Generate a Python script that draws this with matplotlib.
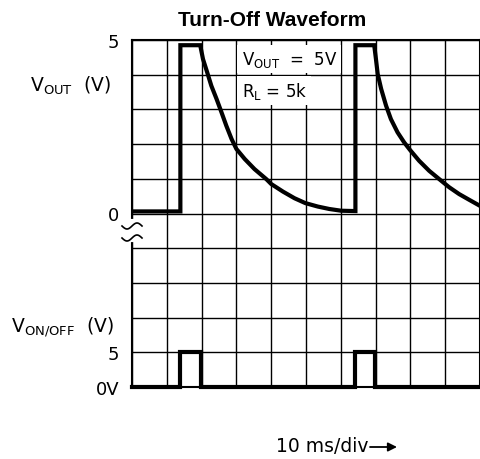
import matplotlib
matplotlib.use('Agg')
import matplotlib.pyplot as plt
from matplotlib.lines import Line2D
from matplotlib.patches import FancyArrowPatch
import numpy as np

# time in ms (10 ms/div, 10 divisions)
vout_t = [0, 13.9, 13.9, 19.6, 20.4, 21.6, 22.8, 24.3, 25.7, 27.1, 28.6, 30.0, 32.4, 35.2,
          38.6, 40.0, 43.4, 46.7, 49.8, 53.4, 56.7, 60.1, 64.2,
          64.2, 69.6, 70.1, 70.6, 71.6, 73.0, 74.4, 76.3, 78.2, 79.9, 82.5, 85.4, 88.3,
          91.1, 94.0, 96.8, 100]
vout_v = [0.06, 0.06, 4.85, 4.85, 4.45, 4.07, 3.68, 3.30, 2.92, 2.53, 2.15, 1.86, 1.57, 1.28,
          0.99, 0.85, 0.63, 0.44, 0.30, 0.20, 0.13, 0.08, 0.07,
          4.85, 4.85, 4.45, 4.02, 3.59, 3.11, 2.72, 2.34, 2.05, 1.83, 1.52, 1.23, 0.99,
          0.76, 0.56, 0.40, 0.22]

von_t = [0, 13.9, 13.9, 19.8, 19.8, 64.2, 64.2, 69.9, 69.9, 100]
von_v = [0, 0, 5, 5, 0, 0, 5, 5, 0, 0]

ytick_labels = ['0V', '5', '', '', '', '0', '', '', '', '', '5']

W, H = 481, 460
fig = plt.figure(figsize=(W / 100, H / 100), dpi=100)
ax = fig.add_axes([132 / W, (H - 388) / H, 348 / W, 347 / H])


def px(x, y):
    # pixel position -> figure fraction
    return x / W, 1 - y / H


# Vout: 1 V/div, zero on the 5th division; Von/off: 5 V/div, zero at bottom
ax.plot(vout_t, [5 + v for v in vout_v], color='black', lw=3, solid_joinstyle='miter',
        zorder=4)
ax.plot(von_t, [v / 5 for v in von_v], color='black', lw=3, solid_joinstyle='miter',
        clip_on=False, zorder=4)

ax.set_xlim(0, 100)
ax.set_ylim(0, 10)
ax.set_xticks(range(0, 101, 10))
ax.set_xticklabels([])
ax.set_yticks(range(11))
ax.set_yticklabels(ytick_labels, fontsize=13)
ax.tick_params(length=0, pad=9)
ax.grid(True, color='black', lw=1.0)
for s in ax.spines.values():
    s.set_linewidth(1.5)

# annotation box
ax.text(31.5, 9.45, r'V$_{\mathregular{OUT}}$  =  5V', fontsize=12, va='center', ha='left',
        bbox=dict(facecolor='white', edgecolor='none', pad=3), zorder=3)
ax.text(31.5, 8.55, r'R$_{\mathregular{L}}$ = 5k', fontsize=12, va='center', ha='left',
        bbox=dict(facecolor='white', edgecolor='none', pad=3), zorder=3)

# break in the left axis, marked with two small wavy strokes
fig.add_artist(Line2D(*zip(px(132, 222), px(132, 241)), color='white', lw=3,
                      transform=fig.transFigure, zorder=5))
s = np.linspace(-1, 1, 30)
for yc in (227, 239):
    xs = 132 + 10 * s
    ys = yc - 3 * np.sin(np.pi * s)
    fig.add_artist(Line2D(xs / W, 1 - ys / H, color='black', lw=1.2,
                          transform=fig.transFigure, zorder=6))

fig.text(*px(272, 20), 'Turn-Off Waveform', fontsize=15, fontweight='bold',
         ha='center', va='center', family='Liberation Sans')
fig.text(*px(70, 86), r'V$_{\mathregular{OUT}}$  (V)', fontsize=13.5, ha='center', va='center')
fig.text(*px(63, 327), r'V$_{\mathregular{ON/OFF}}$  (V)', fontsize=13.5, ha='center',
         va='center')
fig.text(*px(368, 447), '10 ms/div', fontsize=13.5, ha='right', va='center')
fig.add_artist(FancyArrowPatch(px(370, 448), px(397, 448), transform=fig.transFigure,
                               arrowstyle='-|>', mutation_scale=13, shrinkA=0, shrinkB=0,
                               color='black', lw=1.3))

fig.savefig('out.png', dpi=100)
